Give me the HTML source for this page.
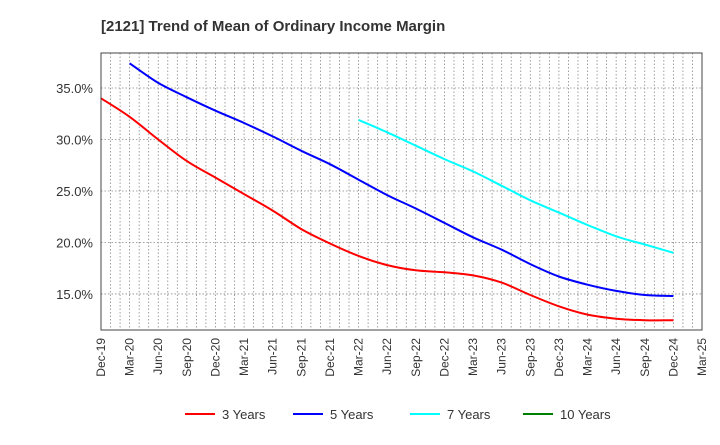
<!DOCTYPE html>
<html><head><meta charset="utf-8"><style>body{margin:0;background:#fff;font-family:"Liberation Sans",sans-serif}</style></head>
<body>
<svg id="c" width="720" height="440" xmlns="http://www.w3.org/2000/svg">
<text x="101" y="31" font-size="15" font-weight="bold" fill="#333">[2121]  Trend of Mean of Ordinary Income Margin</text>
<g id="grid"></g><g id="series"></g><g id="axes"></g><g id="legend"></g>
</svg>
<script>
const xLabels=["Dec-19","Mar-20","Jun-20","Sep-20","Dec-20","Mar-21","Jun-21","Sep-21","Dec-21","Mar-22","Jun-22","Sep-22","Dec-22","Mar-23","Jun-23","Sep-23","Dec-23","Mar-24","Jun-24","Sep-24","Dec-24","Mar-25"];
const yTicks=[15,20,25,30,35];
const s3=[34.0,32.2,30.0,27.9,26.3,24.7,23.1,21.3,19.9,18.7,17.8,17.3,17.1,16.8,16.1,14.9,13.8,13.0,12.6,12.45,12.45];
const s5=[null,37.4,35.5,34.1,32.8,31.6,30.3,28.9,27.6,26.1,24.6,23.3,21.9,20.5,19.3,17.9,16.7,15.9,15.3,14.9,14.8];
const s7=[null,null,null,null,null,null,null,null,null,31.9,30.7,29.4,28.1,26.9,25.5,24.1,22.9,21.7,20.6,19.8,19.0];
const s10=[];
const L=101,R=702,T=53,B=330,yMin=11.5,yMax=38.4;
const X=i=>L+(R-L)*i/21, Y=v=>B-(v-yMin)/(yMax-yMin)*(B-T);
const NS="http://www.w3.org/2000/svg";
function mk(t,a,p){const e=document.createElementNS(NS,t);for(const k in a)e.setAttribute(k,a[k]);p.appendChild(e);return e;}
const g=document.getElementById('grid'),ax=document.getElementById('axes'),se=document.getElementById('series'),lg=document.getElementById('legend');
for(let m=1;m<63;m++){const x=L+(R-L)*m/63;const l=mk('line',{x1:x,x2:x,y1:T,y2:B,stroke:'#888','stroke-dasharray':'1.5,2','stroke-width':0.8},g);

}
yTicks.forEach(v=>{const l=mk('line',{x1:L,x2:R,y1:Y(v),y2:Y(v),stroke:'#888','stroke-dasharray':'1.5,2','stroke-width':0.8},g);


const t=mk('text',{x:L-8,y:Y(v)+5,'text-anchor':'end','font-size':13,fill:'#333'},ax);t.textContent=v.toFixed(1)+'%';

});
const fr=mk('rect',{x:L,y:T,width:R-L,height:B-T,fill:'none',stroke:'#444','stroke-width':1},ax);


xLabels.forEach((s,i)=>{const x=X(i)+4;const t=mk('text',{x:x,y:338,transform:`rotate(-90 ${x} 338)`,'text-anchor':'end','font-size':12,fill:'#333'},ax);t.textContent=s;

});
function line(arr,col,name){const pts=[];arr.forEach((v,i)=>{if(v!=null)pts.push([X(i),Y(v)]);});
if(pts.length<2)return;let d='M'+pts[0][0].toFixed(1)+','+pts[0][1].toFixed(1);
for(let i=0;i<pts.length-1;i++){const p0=pts[i-1]||pts[i],p1=pts[i],p2=pts[i+1],p3=pts[i+2]||p2;
const c1=[p1[0]+(p2[0]-p0[0])/6,p1[1]+(p2[1]-p0[1])/6],c2=[p2[0]-(p3[0]-p1[0])/6,p2[1]-(p3[1]-p1[1])/6];
d+='C'+c1.map(n=>n.toFixed(1)).join(',')+' '+c2.map(n=>n.toFixed(1)).join(',')+' '+p2[0].toFixed(1)+','+p2[1].toFixed(1);}
const p=mk('path',{d:d,fill:'none',stroke:col,'stroke-width':2,'stroke-linejoin':'round'},se);

}
line(s3,'#ff0000','series-3-years');line(s5,'#0000ff','series-5-years');line(s7,'#00ffff','series-7-years');line(s10,'#008000','series-10-years');
[["3 Years","#ff0000",185],["5 Years","#0000ff",293],["7 Years","#00ffff",410],["10 Years","#008000",523]].forEach(e=>{
const gg=mk('g',{},lg);

mk('line',{x1:e[2],x2:e[2]+30,y1:414,y2:414,stroke:e[1],'stroke-width':2},gg);
const t=mk('text',{x:e[2]+37,y:419,'font-size':13,fill:'#333'},gg);t.textContent=e[0];});
</script>
</body></html>
